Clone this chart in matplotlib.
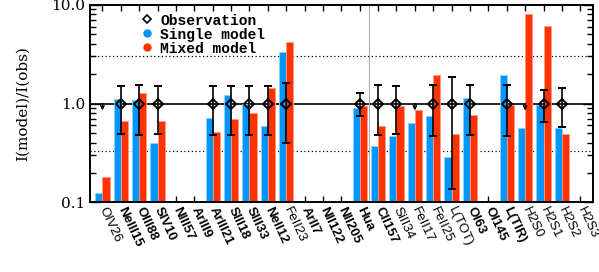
import numpy as np
import matplotlib
matplotlib.use('Agg')
import matplotlib.pyplot as plt
from matplotlib.lines import Line2D

nan = np.nan

# line names (bold = detected line in the original figure)
labels = ['OIV26', 'NeIII15', 'OIII88', 'SIV10', 'NIII57', 'ArIII9', 'ArIII21',
          'SIII18', 'SIII33', 'NeII12', 'FeII23', 'ArII7', 'NII122', 'NII205',
          'Hua', 'CII157', 'SiII34', 'FeII17', 'FeII25', 'L(TOT)', 'OI63',
          'OI145', 'L(TIR)', 'H2S0', 'H2S1', 'H2S2', 'H2S3']
bold = [0, 1, 1, 1, 1, 1, 1, 1, 1, 1, 0, 1, 1, 1,
        1, 1, 0, 0, 0, 0, 1, 1, 1, 0, 0, 0, 0]

# model / observation ratios
single = [0.123, 1.10, 1.08, 0.40, nan, nan, 0.72, 1.23, 1.00, 0.59, 3.30, nan, nan, nan,
          0.91, 0.37, 0.47, 0.63, 0.75, 0.287, 1.14, nan, 1.96, 0.56, 0.96, 0.57, nan]
mixed = [0.18, 0.667, 1.27, 0.66, nan, nan, 0.51, 0.705, 0.80, 1.42, 4.23, nan, nan, nan,
         0.945, 0.59, 0.945, 0.856, 1.96, 0.49, 0.76, nan, 0.96, 8.0, 6.04, 0.49, nan]

# observations (normalised to 1) with error range
obs = [nan, 1, 1, 1, nan, nan, 1, 1, 1, 1, 1, nan, nan, nan,
       1, 1, 1, nan, 1, 1, 1, nan, 1, nan, 1, 1, nan]
err_hi = [nan, 1.50, 1.54, 1.50, nan, nan, 1.52, 1.52, 1.52, 1.52, 1.61, nan, nan, nan,
          1.28, 1.53, 1.51, nan, 1.54, 1.87, 1.53, nan, 1.54, nan, 1.36, 1.44, nan]
err_lo = [nan, 0.49, 0.475, 0.49, nan, nan, 0.486, 0.486, 0.486, 0.486, 0.40, nan, nan, nan,
          0.74, 0.48, 0.49, nan, 0.47, 0.136, 0.475, nan, 0.465, nan, 0.65, 0.58, nan]
# upper limits only
upper = ['OIV26', 'FeII17', 'H2S0']

blue = '#0096ff'
red = '#ff3300'

fig = plt.figure(figsize=(5.99, 2.72), dpi=100)
ax = fig.add_axes([0.1498, 0.256, 0.8407, 0.7267])
ax.set_yscale('log')

x = np.arange(len(labels))
w = 0.39
base = 0.01
s = np.array(single)
m = np.array(mixed)
ax.bar(x - w, s - base, width=w, bottom=base, align='edge', color=blue,
       edgecolor='#8cd0ff', linewidth=0.6, zorder=2)
ax.bar(x, m - base, width=w, bottom=base, align='edge', color=red,
       edgecolor='#ff9a80', linewidth=0.6, zorder=2)

# reference lines
ax.axhline(1.0, color='k', lw=1.2, zorder=1)
ax.axhline(3.0, color='k', lw=0.9, ls=(0, (1, 2)), zorder=1)
ax.axhline(1 / 3.0, color='k', lw=0.9, ls=(0, (1, 2)), zorder=1)
ax.axvline(14.5, color='#aaaaaa', lw=0.8, zorder=1)

o = np.array(obs, dtype=float)
hi = np.array(err_hi) - o
lo = o - np.array(err_lo)
ax.errorbar(x, o, yerr=[lo, hi], fmt='D', mfc='none', mec='k', mew=1.4, ms=5,
            ecolor='k', elinewidth=1.2, capsize=3, capthick=1.2, zorder=4)

for name in upper:
    i = labels.index(name)
    ax.annotate('', xy=(i, 0.85), xytext=(i, 1.0),
                arrowprops=dict(arrowstyle='->', color='k', lw=1.0,
                                mutation_scale=6, shrinkA=0, shrinkB=0), zorder=4)

ax.set_xlim(-0.69, 26.71)
ax.set_ylim(0.1, 10.0)
ax.set_yticks([0.1, 1.0, 10.0], ['0.1', '1.0', '10.0'],
              fontfamily='DejaVu Serif', fontsize=11)
for t in ax.get_yticklabels():
    t.set_va('center_baseline')
ax.set_ylabel('I(model)/I(obs)', fontfamily='DejaVu Serif', fontsize=11, labelpad=16)

ax.set_xticks(x)
ax.set_xticklabels(labels, rotation=-65, ha='left', va='center',
                   rotation_mode='anchor', fontfamily='Liberation Sans', fontsize=9.5)
for lab, b in zip(ax.get_xticklabels(), bold):
    lab.set_fontweight('bold' if b else 'normal')

ax.tick_params(axis='both', which='both', direction='in', top=True, right=True, width=1)
ax.tick_params(axis='x', which='major', length=4, pad=4)
ax.tick_params(axis='x', which='minor', bottom=False, top=False)
ax.tick_params(axis='y', which='major', length=7, pad=3)
ax.tick_params(axis='y', which='minor', length=4)
for sp in ax.spines.values():
    sp.set_linewidth(1.4)

handles = [
    Line2D([], [], marker='D', mfc='none', mec='k', mew=1.2, ms=4, ls='none'),
    Line2D([], [], marker='o', color=blue, ms=5, ls='none'),
    Line2D([], [], marker='o', color=red, ms=5, ls='none'),
]
ax.legend(handles, ['Observation', 'Single model', 'Mixed model'],
          loc='upper left', bbox_to_anchor=(0.088, 0.985), frameon=False,
          handlelength=1.0, handletextpad=0.4, labelspacing=0.0, borderaxespad=0,
          prop=dict(family='Liberation Mono', weight='bold', size=10.5))

fig.savefig('out.png', dpi=100)
